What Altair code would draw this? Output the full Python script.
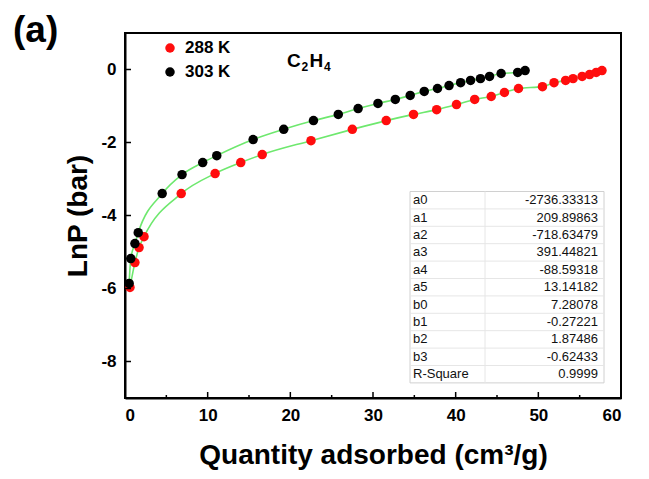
import altair as alt
import pandas as pd

# ---- data ----
x288 = [0.6, 1.2, 1.7, 2.3, 6.8, 10.9, 14.0, 16.6, 22.5, 27.5, 31.6, 34.9, 37.7,
        40.1, 42.3, 44.3, 45.9, 47.6, 50.5, 51.9, 53.3, 54.2, 55.3, 56.2, 57.0, 57.7]
y288 = [-5.97, -5.29, -4.88, -4.58, -3.40, -2.85, -2.55, -2.33, -1.95, -1.64, -1.40,
        -1.23, -1.10, -0.96, -0.82, -0.74, -0.63, -0.52, -0.47, -0.36, -0.30, -0.25,
        -0.19, -0.14, -0.08, -0.03]
x303 = [0.5, 0.7, 1.2, 1.6, 4.5, 6.9, 9.4, 11.1, 15.5, 19.2, 22.8, 25.8, 28.2, 30.6,
        32.7, 34.5, 36.2, 37.8, 39.2, 40.6, 41.8, 43.0, 44.1, 45.5, 47.5, 48.4]
y303 = [-5.86, -5.18, -4.77, -4.47, -3.40, -2.88, -2.55, -2.36, -1.92, -1.64, -1.40,
        -1.23, -1.07, -0.93, -0.82, -0.71, -0.60, -0.52, -0.44, -0.36, -0.30, -0.25,
        -0.19, -0.11, -0.08, -0.03]
series_names = ["288 K", "303 K"]
series_colors = ["#ff0d0d", "#000000"]

param_names = ["a0", "a1", "a2", "a3", "a4", "a5", "b0", "b1", "b2", "b3", "R-Square"]
param_values = ["-2736.33313", "209.89863", "-718.63479", "391.44821", "-88.59318",
                "13.14182", "7.28078", "-0.27221", "1.87486", "-0.62433", "0.9999"]

gas_parts = ["C", "2", "H", "4"]
gas_is_sub = [False, True, False, True]

x_major = [0, 10, 20, 30, 40, 50, 60]
x_minor = [5, 15, 25, 35, 45, 55]
y_major = [-8, -6, -4, -2, 0]

# ---- styling ----
W, H = 496, 365
FONT = "Liberation Sans"
GREEN = "#6ee86e"

pts = pd.concat([
    pd.DataFrame({"x": x288, "y": y288, "series": series_names[0]}),
    pd.DataFrame({"x": x303, "y": y303, "series": series_names[1]}),
], ignore_index=True)

xs = alt.Scale(domain=[0, 60], nice=False, zero=False)
ys = alt.Scale(domain=[-9, 1], nice=False, zero=False)

x_axis = alt.Axis(values=x_major, title="Quantity adsorbed (cm³/g)", grid=False,
                  tickSize=0, labelPadding=9, labelFont=FONT, labelFontSize=17,
                  labelFontWeight="bold", labelColor="black", titleFont=FONT,
                  titleFontSize=28, titleFontWeight="bold", titleColor="black",
                  titlePadding=18, domainColor="black", domainWidth=2,
                  labelExpr="toString(datum.value)")
y_axis = alt.Axis(values=y_major, title="LnP (bar)", grid=False, tickSize=0,
                  labelPadding=9, labelFont=FONT, labelFontSize=17,
                  labelFontWeight="bold", labelColor="black", titleFont=FONT,
                  titleFontSize=28, titleFontWeight="bold", titleColor="black",
                  titlePadding=8, domainColor="black", domainWidth=2,
                  labelExpr="toString(datum.value)")

lines = alt.Chart(pts).mark_line(color=GREEN, strokeWidth=1.6, interpolate="monotone").encode(
    x=alt.X("x:Q", scale=xs, axis=x_axis),
    y=alt.Y("y:Q", scale=ys, axis=y_axis),
    detail="series:N",
)
points = alt.Chart(pts).mark_circle(size=90, opacity=1).encode(
    x=alt.X("x:Q", scale=xs),
    y=alt.Y("y:Q", scale=ys),
    color=alt.Color("series:N", scale=alt.Scale(domain=series_names, range=series_colors),
                    legend=None),
    order=alt.Order("series:N"),
)

# inward ticks
xt_major = alt.Chart(pd.DataFrame({"t": x_major})).mark_rule(color="black", strokeWidth=1.5).encode(
    x=alt.X("t:Q", scale=xs), y=alt.value(H), y2=alt.value(H - 6))
xt_minor = alt.Chart(pd.DataFrame({"t": x_minor})).mark_rule(color="black", strokeWidth=1.5).encode(
    x=alt.X("t:Q", scale=xs), y=alt.value(H), y2=alt.value(H - 3))
yt_major = alt.Chart(pd.DataFrame({"t": y_major})).mark_rule(color="black", strokeWidth=1.5).encode(
    y=alt.Y("t:Q", scale=ys), x=alt.value(0), x2=alt.value(6))

# legend
leg = pd.DataFrame({"series": series_names, "i": [0, 1]})
leg_base = alt.Chart(leg).transform_calculate(ly="15 + 24 * datum.i")
leg_dots = leg_base.mark_circle(size=90, opacity=1).encode(
    x=alt.value(45), y=alt.Y("ly:Q", scale=None),
    color=alt.Color("series:N", scale=alt.Scale(domain=series_names, range=series_colors),
                    legend=None))
leg_text = leg_base.mark_text(align="left", baseline="middle", font=FONT, fontSize=17,
                              fontWeight="bold", color="black").encode(
    x=alt.value(60), y=alt.Y("ly:Q", scale=None), text="series:N")

# C2H4 label with subscripts
gas_df = pd.DataFrame({"t": gas_parts, "sub": gas_is_sub, "k": list(range(4))})
gas_base = alt.Chart(gas_df).transform_calculate(
    gx="162 + [0, 14.5, 22.5, 37][datum.k]")
gas_big = gas_base.transform_filter("!datum.sub").mark_text(
    align="left", baseline="alphabetic", font=FONT, fontSize=19, fontWeight="bold",
    color="black").encode(x=alt.X("gx:Q", scale=None), y=alt.value(34), text="t:N")
gas_small = gas_base.transform_filter("datum.sub").mark_text(
    align="left", baseline="alphabetic", font=FONT, fontSize=12, fontWeight="bold",
    color="black").encode(x=alt.X("gx:Q", scale=None), y=alt.value(38), text="t:N")

panel = alt.Chart(pd.DataFrame({"t": ["(a)"]})).mark_text(
    align="left", baseline="alphabetic", font=FONT, fontSize=37, fontWeight="bold",
    color="black").encode(x=alt.value(-112), y=alt.value(9), text="t:N")

# parameter table
tab = pd.DataFrame({"name": param_names, "val": param_values, "i": list(range(len(param_names)))})
TOP, ROW = 158.5, 17.4
tab_box = alt.Chart(pd.DataFrame({"k": [0]})).mark_rect(
    fill="white", stroke="#d0d0d0", strokeWidth=1).encode(
    x=alt.value(285), x2=alt.value(479), y=alt.value(TOP), y2=alt.value(TOP + ROW * 11))
tab_lines = alt.Chart(pd.DataFrame({"i": list(range(1, 11))})).transform_calculate(
    ry=f"{TOP} + {ROW} * datum.i").mark_rule(color="#e6e6e6", strokeWidth=1).encode(
    x=alt.value(285), x2=alt.value(479), y=alt.Y("ry:Q", scale=None))
tab_col = alt.Chart(pd.DataFrame({"k": [0]})).mark_rule(color="#e6e6e6", strokeWidth=1).encode(
    x=alt.value(360), y=alt.value(TOP), y2=alt.value(TOP + ROW * 11))
tab_base = alt.Chart(tab).transform_calculate(ty=f"{TOP + ROW / 2} + {ROW} * datum.i")
tab_names = tab_base.mark_text(align="left", baseline="middle", font=FONT, fontSize=13,
                               color="#111111").encode(
    x=alt.value(288), y=alt.Y("ty:Q", scale=None), text="name:N")
tab_vals = tab_base.mark_text(align="right", baseline="middle", font=FONT, fontSize=13,
                              color="#111111").encode(
    x=alt.value(473), y=alt.Y("ty:Q", scale=None), text="val:N")

chart = alt.layer(
    lines, points, xt_major, xt_minor, yt_major,
    tab_box, tab_lines, tab_col, tab_names, tab_vals,
    leg_dots, leg_text, gas_big, gas_small, panel,
).properties(
    width=W, height=H,
    padding={"left": 117, "top": 25, "right": 16, "bottom": 76},
    autosize=alt.AutoSizeParams(type="none"),
).configure_view(
    stroke="black", strokeWidth=2
)

chart.save("out.html", embed_options={"renderer": "svg", "actions": False})
